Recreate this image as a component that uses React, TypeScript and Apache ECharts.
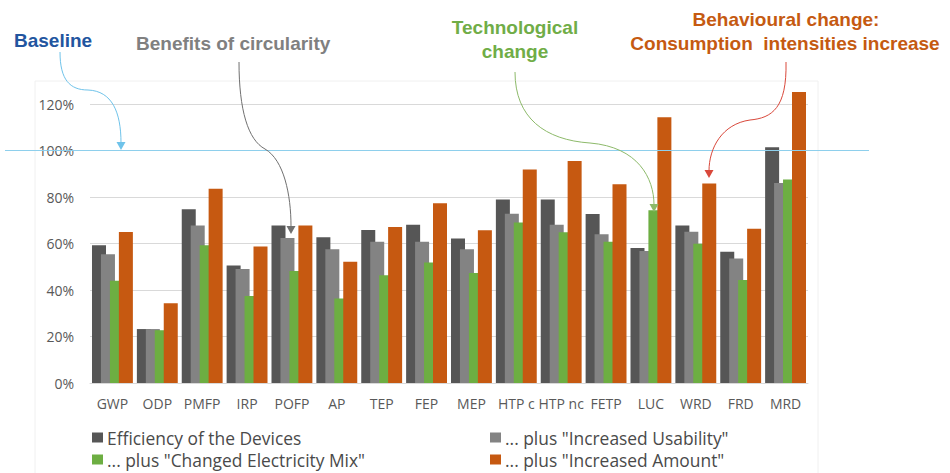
import React, { useEffect, useRef } from "react";
import * as echarts from "echarts";

const categories = ["GWP", "ODP", "PMFP", "IRP", "POFP", "AP", "TEP", "FEP", "MEP", "HTP c", "HTP nc", "FETP", "LUC", "WRD", "FRD", "MRD"];
const efficiency = [59.2, 23.2, 74.7, 50.5, 67.7, 62.7, 65.8, 68.1, 62.1, 78.9, 78.9, 72.7, 58.1, 67.7, 56.4, 101.4];
const usability = [55.4, 23.2, 67.7, 49.0, 62.4, 57.5, 60.7, 60.7, 57.5, 72.8, 68.1, 64.0, 56.8, 65.1, 53.6, 86.0];
const electricity = [44.0, 22.7, 59.2, 37.4, 48.2, 36.3, 46.3, 51.8, 47.3, 69.0, 64.8, 60.7, 74.3, 59.9, 44.3, 87.5];
const amount = [65.0, 34.3, 83.5, 58.7, 67.7, 52.1, 67.1, 77.3, 65.7, 91.8, 95.5, 85.5, 114.3, 85.8, 66.3, 125.2];
const seriesNames = [
  "Efficiency of the Devices",
  '... plus "Increased Usability"',
  '... plus "Changed Electricity Mix"',
  '... plus "Increased Amount"',
];
const seriesColors = ["#565656", "#838383", "#6DAE42", "#C65911"];
const baselineValue = 100;

export default function App() {
  const ref = useRef<HTMLDivElement>(null);
  useEffect(() => {
    if (!ref.current) return;
    const chart = echarts.init(ref.current, null, { renderer: "svg" });
    const data = [efficiency, usability, electricity, amount];
    const textFont = '"Open Sans", sans-serif';
    const legendPos = [
      [87, 424],
      [485, 424],
      [87, 446],
      [485, 446],
    ];
    chart.setOption({
      animation: false,
      backgroundColor: "#ffffff",
      grid: { left: 90, right: 142, top: 104, height: 279, containLabel: false },
      xAxis: {
        type: "category",
        data: categories,
        axisLine: { show: true, lineStyle: { color: "#d9d9d9" } },
        axisTick: { show: false },
        axisLabel: { color: "#595959", fontSize: 14, fontFamily: textFont, margin: 13, interval: 0 },
      },
      yAxis: {
        type: "value",
        min: 0,
        max: 120,
        interval: 20,
        axisLine: { show: false },
        axisTick: { show: false },
        splitLine: { lineStyle: { color: "#d9d9d9" } },
        axisLabel: { color: "#595959", fontSize: 14, fontFamily: textFont, formatter: "{value}%", margin: 16 },
      },
      legend: seriesNames.map((name, i) => ({
        left: legendPos[i][0],
        top: legendPos[i][1],
        orient: "horizontal",
        itemWidth: 11,
        itemHeight: 10,
        itemGap: 6,
        icon: "rect",
        data: [name],
        textStyle: { color: "#4a4a4a", fontSize: 17.4, fontFamily: textFont, padding: [0, 0, 0, -1] },
      })),
      series: seriesNames.map((name, i) => ({
        name,
        type: "bar",
        data: data[i],
        barWidth: 14,
        barGap: "-36%",
        clip: false,
        itemStyle: { color: seriesColors[i] },
      })),
    });

    const yBase = chart.convertToPixel({ yAxisIndex: 0 }, baselineValue) as number;
    const bold = 'bold 19px "Liberation Sans", Arial, sans-serif';
    const curve = (pts: number[], color: string) => ({
      type: "bezierCurve",
      shape: { x1: pts[0], y1: pts[1], cpx1: pts[2], cpy1: pts[3], cpx2: pts[4], cpy2: pts[5], x2: pts[6], y2: pts[7] },
      style: { stroke: color, fill: "none", lineWidth: 1 },
      z: 10,
    });
    const head = (x: number, y: number, color: string) => ({
      type: "polygon",
      shape: { points: [[x - 4.5, y - 8], [x + 4.5, y - 8], [x, y]] },
      style: { fill: color },
      z: 10,
    });
    const txt = (text: string, x: number, y: number, color: string, align: string) => ({
      type: "text",
      x,
      y,
      style: { text, font: bold, fill: color, textAlign: align, textVerticalAlign: "middle" },
      z: 10,
    });
    const blue = "#6FC3EA";
    const gray = "#707070";
    const green = "#8DBA6A";
    const red = "#D9483B";
    chart.setOption({
      graphic: [
        {
          type: "rect",
          shape: { x: 35, y: 81, width: 783, height: 420 },
          style: { stroke: "#f0f0f0", fill: "none", lineWidth: 1 },
          z: -1,
        },
        {
          type: "line",
          shape: { x1: 5, y1: yBase, x2: 869, y2: yBase },
          style: { stroke: "#8ECFEC", lineWidth: 1.2 },
          z: 10,
        },
        txt("Baseline", 14, 40, "#22559F", "left"),
        txt("Benefits of circularity", 136, 43, "#808080", "left"),
        txt("Technological", 515, 27, "#70AD47", "center"),
        txt("change", 515, 51, "#70AD47", "center"),
        txt("Behavioural change:", 786, 19, "#C55A11", "center"),
        txt("Consumption  intensities increase", 785, 43, "#C55A11", "center"),
        curve([60, 52, 60, 80, 70, 90, 88, 90], blue),
        curve([88, 90, 112, 91, 121, 112, 121, 143], blue),
        head(121, 150, blue),
        curve([239, 62, 239, 110, 248, 140, 265, 149], gray),
        curve([265, 149, 284, 160, 291, 195, 291, 226], gray),
        head(291, 234, gray),
        curve([515, 72, 515, 118, 545, 140, 590, 143], green),
        curve([590, 143, 638, 147, 654, 178, 654, 205], green),
        head(654, 212, green),
        curve([786, 62, 787, 108, 772, 118, 750, 120], red),
        curve([750, 120, 722, 124, 709, 148, 709, 171], red),
        head(709, 178, red),
      ],
    });
    return () => chart.dispose();
  }, []);
  return (
    <div
      ref={ref}
      style={{ position: "fixed", left: 0, top: 0, width: 950, height: 473, background: "#fff" }}
    />
  );
}
